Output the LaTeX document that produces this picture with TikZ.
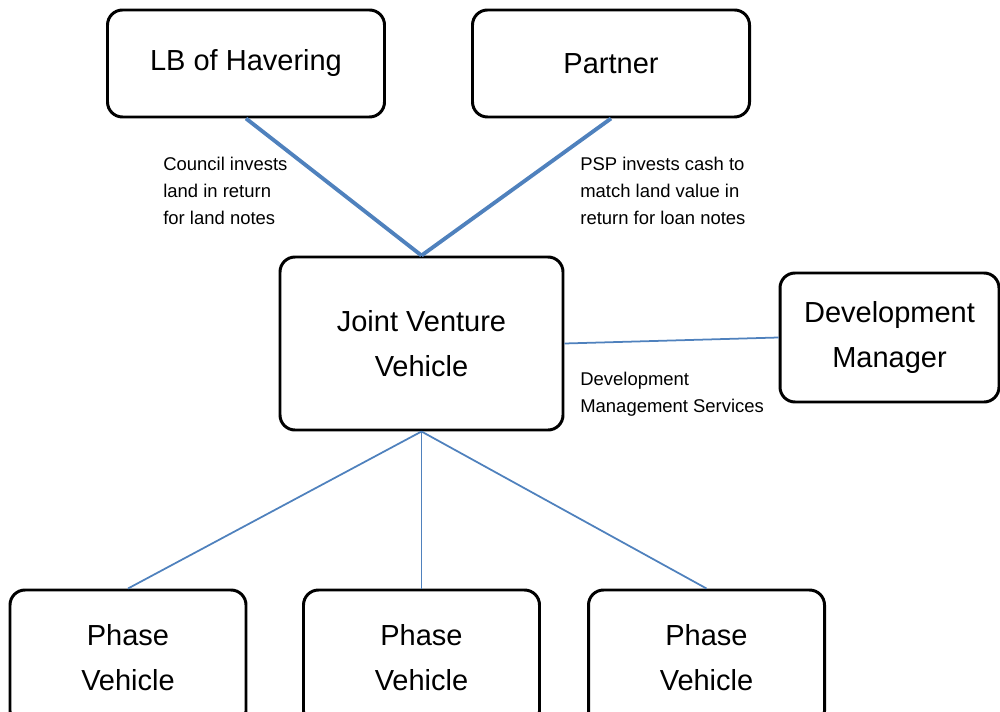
\documentclass[tikz,border=0pt]{standalone}
\usepackage{fontspec}
\setmainfont{Liberation Sans}
\usepackage{xcolor}
\definecolor{linkblue}{RGB}{79,129,189}

\begin{document}
\begin{tikzpicture}[
    box/.style={draw=black, line width=1.7pt, rounded corners=0.3cm, fill=white,
      align=center, inner sep=0pt, font=\fontsize{16.5}{25.5}\selectfont},
    link/.style={draw=linkblue, line width=1pt},
    thicklink/.style={draw=linkblue, line width=2.2pt},
    note/.style={align=left, inner sep=0pt, anchor=north west,
      font=\fontsize{10.5}{15.3}\selectfont}
  ]
  % Frame of the picture
  \useasboundingbox (0,0) rectangle (20,14.22);
  \clip (0,0) rectangle (20,14.22);

  % Partners on top
  \node[box, minimum width=5.54cm, minimum height=2.14cm] (lb) at (4.92,12.95) {LB of Havering};
  \node[box, minimum width=5.54cm, minimum height=2.14cm] (partner) at (12.22,12.95) {Partner};

  % The joint venture and its manager
  \node[box, minimum width=5.66cm, minimum height=3.46cm] (jvv) at (8.43,7.35) {Joint Venture\\Vehicle};
  \node[box, minimum width=4.38cm, minimum height=2.58cm] (dm) at (17.79,7.47) {Development\\Manager};

  % Phase vehicles below
  \node[box, minimum width=4.72cm, minimum height=2.72cm] (phaseA) at (2.56,1.06) {Phase\\Vehicle};
  \node[box, minimum width=4.72cm, minimum height=2.72cm] (phaseB) at (8.43,1.06) {Phase\\Vehicle};
  \node[box, minimum width=4.72cm, minimum height=2.72cm] (phaseC) at (14.13,1.06) {Phase\\Vehicle};

  % Connections
  \draw[thicklink] (lb.south) -- (jvv.north);
  \draw[thicklink] (partner.south) -- (jvv.north);
  \draw[link] (jvv.east) -- (dm.west);
  \draw[link] (jvv.south) -- (phaseA.north);
  \draw[link] (jvv.south) -- (phaseB.north);
  \draw[link] (jvv.south) -- (phaseC.north);

  % Notes on the links
  \node[note] (councilnote) at (3.26,11.08) {Council invests\\land in return\\for land notes};
  \node[note] (pspnote) at (11.6,11.08) {PSP invests cash to\\match land value in\\return for loan notes};
  \node[note] (dmnote) at (11.6,6.78) {Development\\Management Services};
\end{tikzpicture}
\end{document}
